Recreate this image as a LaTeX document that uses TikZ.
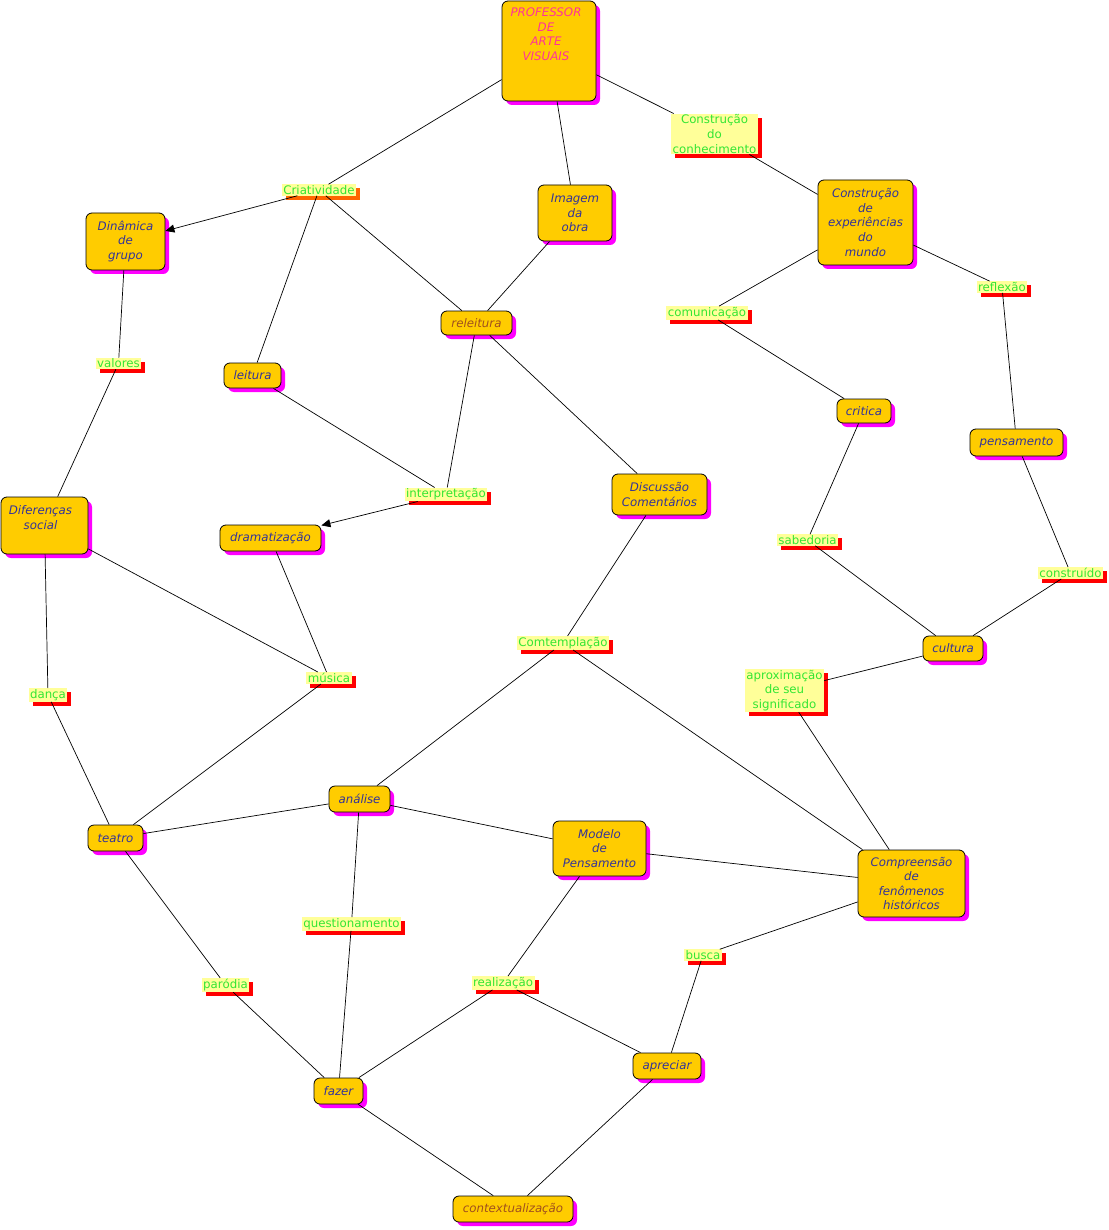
\documentclass[tikz,border=0pt]{standalone}
\usepackage{fontspec}
\setmainfont{DejaVu Sans}
\usetikzlibrary{shadows,arrows.meta}
\definecolor{cfill}{HTML}{FFCC00}
\definecolor{cshadow}{HTML}{FF00FF}
\definecolor{ctext}{HTML}{333399}
\definecolor{cbrown}{HTML}{A0501E}
\definecolor{cpink}{HTML}{FF3399}
\definecolor{lfill}{HTML}{FFFF99}
\definecolor{ltext}{HTML}{33E633}
\definecolor{lshadow}{HTML}{FF0000}
\definecolor{oshadow}{HTML}{FF6600}
\begin{document}
\begin{tikzpicture}[x=1pt,y=-1pt,
  concept/.style={draw=black, line width=0.8pt, fill=cfill, rounded corners=6pt,
    inner sep=0pt, align=center, text=ctext,
    font=\fontsize{11.8}{14.6}\selectfont\itshape,
    general shadow={fill=cshadow, shadow xshift=4pt, shadow yshift=-4pt}},
  toptext/.style={inner sep=0pt, align=center, anchor=north,
    font=\fontsize{11.8}{14.6}\selectfont\itshape},
  linkl/.style={fill=lfill, inner xsep=1.5pt, inner ysep=1pt, align=center, text=ltext,
    font=\fontsize{11.8}{14.6}\selectfont,
    general shadow={fill=lshadow, shadow xshift=4pt, shadow yshift=-4pt}},
  conn/.style={draw=black, line width=0.7pt},
  arr/.style={conn, -{Triangle[length=9pt,width=8pt]}}
]
\fill[white] (0,0) rectangle (1108,1230);
\useasboundingbox (0,0) rectangle (1108,1230);

% concept nodes
\node[concept, minimum width=94pt, minimum height=100pt,
  label={[toptext, text=cpink, xshift=-3pt, yshift=-7pt]north:PROFESSOR\\DE\\ARTE\\VISUAIS}] (prof) at (549,51) {};
\node[concept, minimum width=74pt, minimum height=56pt] (imagem) at (575,213) {Imagem\\da\\obra};
\node[concept, minimum width=95pt, minimum height=85pt] (exper) at (865.5,222.5) {Construção\\de\\experiências\\do\\mundo};
\node[concept, minimum width=79pt, minimum height=57pt] (dinamica) at (125.5,241.5) {Dinâmica\\de\\grupo};
\node[concept, minimum width=71pt, minimum height=24pt, text=cbrown] (releitura) at (476.5,323) {releitura};
\node[concept, minimum width=57pt, minimum height=25pt] (leitura) at (252.5,375.5) {leitura};
\node[concept, minimum width=54pt, minimum height=24pt] (critica) at (864,411) {critica};
\node[concept, minimum width=93pt, minimum height=27pt] (pensamento) at (1016.5,442.5) {pensamento};
\node[concept, minimum width=87pt, minimum height=57pt,
  label={[toptext, text=ctext, xshift=-4pt, yshift=-9pt]north:Diferenças\\social}] (diferencas) at (44.5,525.5) {};
\node[concept, minimum width=101pt, minimum height=26pt] (dramatizacao) at (270.5,538) {dramatização};
\node[concept, minimum width=95pt, minimum height=41pt] (discussao) at (659.5,494.5) {Discussão\\Comentários};
\node[concept, minimum width=60pt, minimum height=25pt] (cultura) at (953,648.5) {cultura};
\node[concept, minimum width=61pt, minimum height=26pt] (analise) at (359.5,799) {análise};
\node[concept, minimum width=55pt, minimum height=26pt] (teatro) at (115.5,838) {teatro};
\node[concept, minimum width=93pt, minimum height=55pt] (modelo) at (599.5,848.5) {Modelo\\de\\Pensamento};
\node[concept, minimum width=107pt, minimum height=67pt] (compreensao) at (911.5,883.5) {Compreensão\\de\\fenômenos\\históricos};
\node[concept, minimum width=68pt, minimum height=26pt] (apreciar) at (667,1066) {apreciar};
\node[concept, minimum width=49pt, minimum height=26pt] (fazer) at (338.5,1091) {fazer};
\node[concept, minimum width=120pt, minimum height=26pt, text=cbrown] (context) at (513,1209) {contextualização};

% linking labels
\node[linkl, general shadow={fill=oshadow, shadow xshift=4pt, shadow yshift=-4pt}] (criat) at (319,190) {Criatividade};
\node[linkl] (constr) at (714.5,134) {Construção\\do\\conhecimento};
\node[linkl] (valores) at (118.5,363.5) {valores};
\node[linkl] (comunic) at (707,313) {comunicação};
\node[linkl] (reflexao) at (1002,287) {reflexão};
\node[linkl] (interp) at (446,494.5) {interpretação};
\node[linkl] (sabedoria) at (807.5,540) {sabedoria};
\node[linkl] (construido) at (1070.5,573) {construído};
\node[linkl] (comtemp) at (563,643) {Comtemplação};
\node[linkl] (musica) at (329,678) {música};
\node[linkl] (danca) at (48,695) {dança};
\node[linkl] (aprox) at (784.5,690.5) {aproximação\\de seu\\significado};
\node[linkl] (quest) at (351.5,924) {questionamento};
\node[linkl] (parodia) at (225.5,985) {paródia};
\node[linkl] (realiz) at (503,983) {realização};
\node[linkl] (busca) at (703,955) {busca};

% connectors
\draw[conn] (prof) -- (criat);
\draw[arr] (criat) -- (dinamica);
\draw[conn] (criat) -- (leitura);
\draw[conn] (criat) -- (releitura);
\draw[conn] (prof) -- (imagem);
\draw[conn] (imagem) -- (releitura);
\draw[conn] (prof) -- (constr);
\draw[conn] (constr) -- (exper);
\draw[conn] (exper) -- (comunic);
\draw[conn] (exper) -- (reflexao);
\draw[conn] (comunic) -- (critica);
\draw[conn] (critica) -- (sabedoria);
\draw[conn] (reflexao) -- (pensamento);
\draw[conn] (pensamento) -- (construido);
\draw[conn] (sabedoria) -- (cultura);
\draw[conn] (construido) -- (cultura);
\draw[conn] (cultura) -- (aprox);
\draw[conn] (aprox) -- (compreensao);
\draw[conn] (dinamica) -- (valores);
\draw[conn] (valores) -- (diferencas);
\draw[conn] (leitura) -- (interp);
\draw[conn] (releitura) -- (interp);
\draw[conn] (releitura) -- (discussao);
\draw[arr] (interp) -- (dramatizacao);
\draw[conn] (discussao) -- (comtemp);
\draw[conn] (dramatizacao) -- (musica);
\draw[conn] (diferencas) -- (musica);
\draw[conn] (diferencas) -- (danca);
\draw[conn] (danca) -- (teatro);
\draw[conn] (musica) -- (teatro);
\draw[conn] (comtemp) -- (analise);
\draw[conn] (comtemp) -- (compreensao);
\draw[conn] (teatro) -- (analise);
\draw[conn] (analise) -- (modelo);
\draw[conn] (modelo) -- (compreensao);
\draw[conn] (analise) -- (quest);
\draw[conn] (quest) -- (fazer);
\draw[conn] (teatro) -- (parodia);
\draw[conn] (parodia) -- (fazer);
\draw[conn] (modelo) -- (realiz);
\draw[conn] (realiz) -- (fazer);
\draw[conn] (realiz) -- (apreciar);
\draw[conn] (compreensao) -- (busca);
\draw[conn] (busca) -- (apreciar);
\draw[conn] (apreciar) -- (context);
\draw[conn] (fazer) -- (context);
\end{tikzpicture}
\end{document}
